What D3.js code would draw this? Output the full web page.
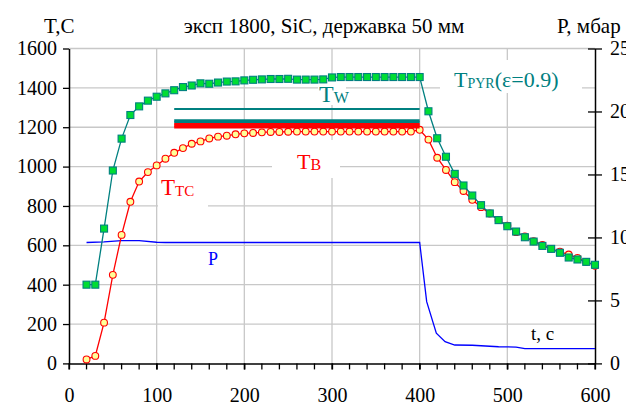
<!DOCTYPE html>
<html><head><meta charset="utf-8">
<script src="https://cdn.jsdelivr.net/npm/d3@7"></script>
<style>
html,body{margin:0;padding:0;background:#fff;}
svg{display:block;font-family:"Liberation Serif","Times New Roman",serif;}
</style></head>
<body><svg id="c" width="626" height="406"></svg>
<script>
// ---- data ----
const tTimes = [20,30,40,50,60,70,80,90,100,110,120,130,140,150,160,170,180,190,200,210,220,230,240,250,260,270,280,290,300,310,320,330,340,350,360,370,380,390,400,410,420,430,440,450,460,470,480,490,500,510,520,530,540,550,560,570,580,590,600];
const tPyr = [400,400,685,980,1142,1262,1306,1335,1355,1372,1388,1404,1412,1423,1421,1427,1432,1433,1438,1441,1443,1445,1445,1446,1442,1442,1442,1443,1453,1455,1455,1455,1455,1455,1455,1455,1455,1455,1455,1281,1144,1050,963,904,853,804,762,728,697,670,641,619,597,582,562,538,528,516,501];
const tTc = [20,38,207,450,653,821,924,972,1006,1040,1070,1094,1116,1128,1143,1152,1157,1164,1169,1171,1174,1176,1176,1177,1178,1178,1178,1178,1178,1178,1178,1178,1178,1178,1178,1178,1178,1178,1187,1137,1045,983,921,876,831,794,762,728,700,667,645,621,602,582,568,553,536,516,496];
const pTimes = [20,40,60,80,100,110,400,408,419,429,440,460,470,490,510,520,600];
const pVals  = [9.6,9.65,9.75,9.75,9.62,9.6,9.6,4.9,2.4,1.72,1.46,1.44,1.40,1.32,1.30,1.18,1.18];
const hStart = 120, hEnd = 400;
const hLevelsTeal = [1293,1234,1226];
const hLevelsRed = [1216,1208,1200];
const xTicks = [0,100,200,300,400,500,600];
const yTicks = [0,200,400,600,800,1000,1200,1400,1600];
const pTicks = [0,5,10,15,20,25];
const title = "эксп 1800, SiC, державка 50 мм";
const leftTitle = "T,C", rightTitle = "P, мбар";

// ---- scales ----
const svg = d3.select("#c");
const x = d3.scaleLinear().domain([0,600]).range([69,595]);
const y = d3.scaleLinear().domain([0,1600]).range([363.4,48.5]);
const yP = d3.scaleLinear().domain([0,25]).range([363.4,48.5]);
const grid = "#c8c8c8";
const serif = "Liberation Serif, Times New Roman, serif";

// gridlines
svg.append("g").selectAll("line").data(yTicks.filter(d=>d>0)).join("line")
  .attr("x1",x(0)).attr("x2",x(600)).attr("y1",d=>y(d)).attr("y2",d=>y(d))
  .attr("stroke",grid).attr("stroke-width",1.3);
svg.append("g").selectAll("line").data(xTicks.filter(d=>d>0&&d<600)).join("line")
  .attr("x1",d=>x(d)).attr("x2",d=>x(d)).attr("y1",y(0)).attr("y2",y(1600))
  .attr("stroke",grid).attr("stroke-width",1.3);

// white label boxes
[[158,172,50,35],[272,140,68,38],[318,80,28,25],[440,60,142,33]].forEach(b=>{
  svg.append("rect").attr("x",b[0]).attr("y",b[1]).attr("width",b[2]).attr("height",b[3]).attr("fill","#fff");
});

// axes
const fmt = d3.format("d");
const gL = svg.append("g").attr("transform",`translate(${x(0)},0)`)
  .call(d3.axisLeft(y).tickValues(yTicks).tickFormat(fmt).tickSize(6).tickSizeOuter(0).tickPadding(6));
const gB = svg.append("g").attr("transform",`translate(0,${y(0)})`)
  .call(d3.axisBottom(x).tickValues(xTicks).tickFormat(fmt).tickSize(6).tickSizeOuter(0).tickPadding(18));
const minor = d3.range(0,601,20);
svg.append("g").selectAll("line").data(minor).join("line")
  .attr("x1",d=>x(d)).attr("x2",d=>x(d)).attr("y1",y(0)).attr("y2",y(0)+6)
  .attr("stroke","#000").attr("stroke-width",1.3);
const gR = svg.append("g").attr("transform",`translate(${x(600)},0)`)
  .call(d3.axisRight(yP).tickValues(pTicks).tickFormat(fmt).tickSize(7).tickSizeOuter(0).tickPadding(8));
gR.selectAll(".tick line").attr("x1",-7).attr("x2",7);
[gL,gB,gR].forEach(g=>{
  g.attr("font-family",serif).attr("font-size",20);
  g.selectAll("path.domain").attr("stroke","#000").attr("stroke-width",1.5);
  g.selectAll(".tick line").attr("stroke","#000").attr("stroke-width",1.3);
  g.selectAll("text").attr("fill","#000");
});

// series
const lineP = d3.line().x((d,i)=>x(pTimes[i])).y(d=>yP(d));
svg.append("path").datum(pVals).attr("d",lineP).attr("fill","none").attr("stroke","#0000ff").attr("stroke-width",1.3);

const lineT = arr => d3.line().x((d,i)=>x(tTimes[i])).y(d=>y(d))(arr);
svg.append("path").attr("d",lineT(tTc)).attr("fill","none").attr("stroke","#ff0000").attr("stroke-width",1.3);
svg.append("g").selectAll("circle").data(tTc).join("circle")
  .attr("cx",(d,i)=>x(tTimes[i])).attr("cy",d=>y(d)).attr("r",3.4)
  .attr("fill","#ffff99").attr("stroke","#ff0000").attr("stroke-width",1.1);

svg.append("path").attr("d",lineT(tPyr)).attr("fill","none").attr("stroke","#008080").attr("stroke-width",1.3);
svg.append("g").selectAll("rect").data(tPyr).join("rect")
  .attr("x",(d,i)=>x(tTimes[i])-3.5).attr("y",d=>y(d)-3.5).attr("width",7).attr("height",7)
  .attr("fill","#00dd33").attr("stroke","#008080").attr("stroke-width",1.1);

// horizontal reference lines
hLevelsTeal.forEach((v,i)=>{
  svg.append("line").attr("x1",x(hStart)).attr("x2",x(hEnd)).attr("y1",y(v)).attr("y2",y(v))
    .attr("stroke","#008080").attr("stroke-width",i===0?2:2.4);
});
hLevelsRed.forEach(v=>{
  svg.append("line").attr("x1",x(hStart)).attr("x2",x(hEnd)).attr("y1",y(v)).attr("y2",y(v))
    .attr("stroke","#ff0000").attr("stroke-width",2.4);
});

// labels
function lab(xp,yp,main,sub,rest,color,big,small){
  const t = svg.append("text").attr("x",xp).attr("y",yp).attr("fill",color).attr("font-size",big+"px");
  t.append("tspan").text(main);
  if(sub) t.append("tspan").attr("font-size",small+"px").attr("dy",1.5).text(sub);
  if(rest) t.append("tspan").attr("dy",-1.5).text(rest);
}
lab(161,194.5,"T","TC",null,"#ff0000",23,15);
lab(297,168.5,"T","B",null,"#ff0000",22,16);
lab(319,101.5,"T","W",null,"#008080",24,16);
lab(454,86.5,"T","PYR","(ε=0.9)","#008080",22,14);
lab(208,265,"P",null,null,"#0000ff",18,12);
svg.append("text").attr("x",531).attr("y",340).attr("font-size","19px").attr("fill","#000").text("t, c");

svg.append("text").attr("x",324).attr("y",33).attr("text-anchor","middle").attr("font-size","21px").text(title);
svg.append("text").attr("x",44).attr("y",33).attr("font-size","21px").text(leftTitle);
svg.append("text").attr("x",557).attr("y",33).attr("font-size","21px").text(rightTitle);
</script></body></html>
